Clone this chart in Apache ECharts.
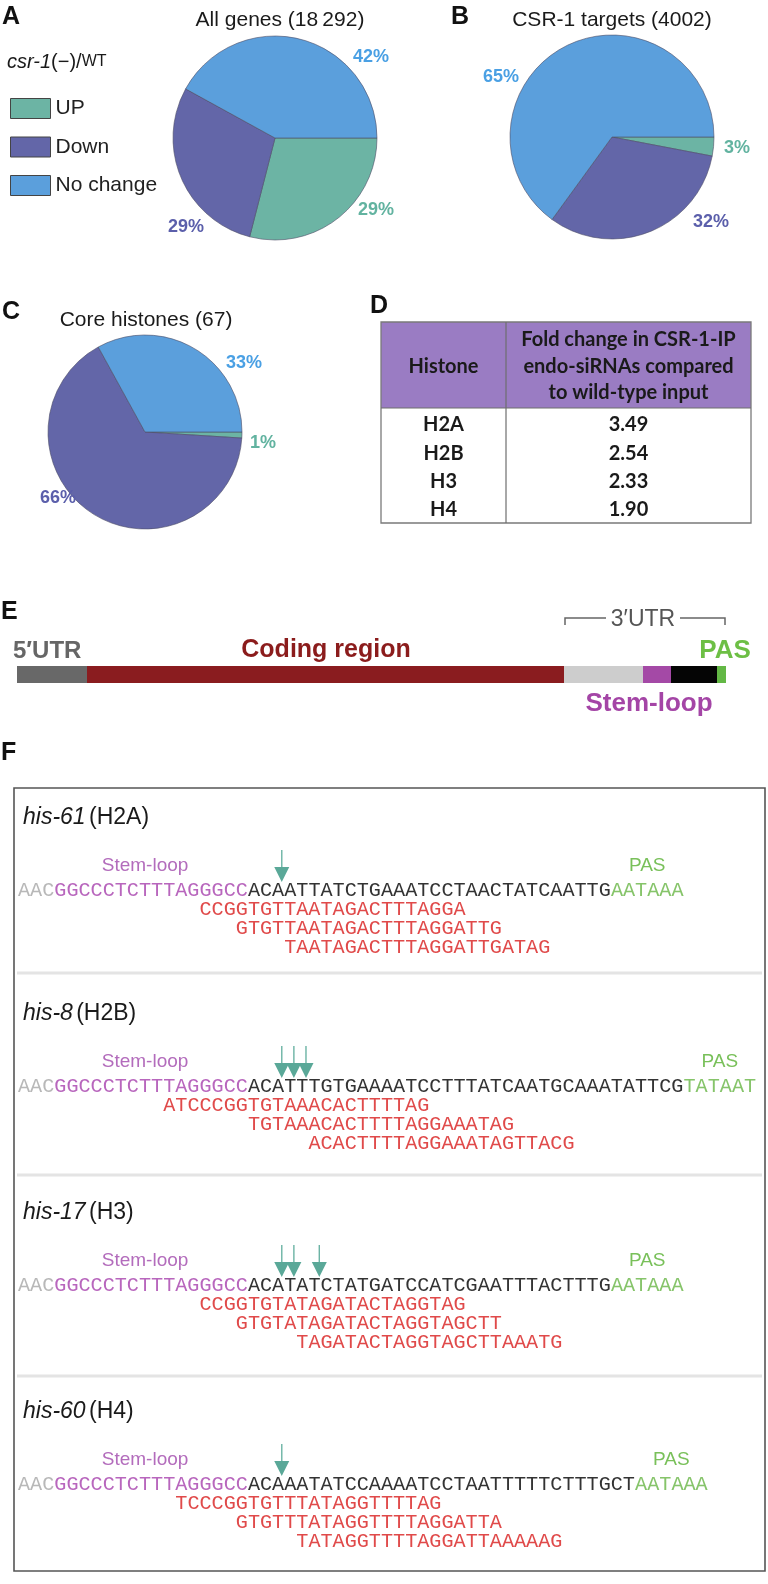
<!DOCTYPE html>
<html><head><meta charset="utf-8">
<script src="https://cdn.jsdelivr.net/npm/echarts@6/dist/echarts.min.js"></script>
<style>html,body{margin:0;padding:0;background:#fff}#c{width:768px;height:1584px}</style>
</head><body><div id="c"></div>
<script>
// ---------- DATA ----------
const categories = ['UP', 'Down', 'No change'];
const allGenes = [29, 29, 42];
const csr1Targets = [3, 32, 65];
const coreHistones = [1, 66, 33];
const pieTitles = ['All genes (18\u2009292)', 'CSR-1 targets (4002)', 'Core histones (67)'];

const histones = ['H2A', 'H2B', 'H3', 'H4'];
const foldChange = ['3.49', '2.54', '2.33', '1.90'];
const tableHeader = ['Histone', 'Fold change in CSR-1-IP', 'endo-siRNAs compared', 'to wild-type input'];

const geneParts = ['5\u2032UTR', 'Coding region', '3\u2032UTR', 'Stem-loop', '3\u2032 end', 'PAS'];
const genePartLengths = [70, 477, 79, 28, 46, 9];

const geneNames = ['his-61', 'his-8', 'his-17', 'his-60'];
const histoneTypes = ['H2A', 'H2B', 'H3', 'H4'];
const seqLead = ['AAC', 'AAC', 'AAC', 'AAC'];
const seqStem = ['GGCCCTCTTTAGGGCC', 'GGCCCTCTTTAGGGCC', 'GGCCCTCTTTAGGGCC', 'GGCCCTCTTTAGGGCC'];
const seqMid = ['ACAATTATCTGAAATCCTAACTATCAATTG',
                'ACATTTGTGAAAATCCTTTATCAATGCAAATATTCG',
                'ACATATCTATGATCCATCGAATTTACTTTG',
                'ACAAATATCCAAAATCCTAATTTTTCTTTGCT'];
const seqPas = ['AATAAA', 'TATAAT', 'AATAAA', 'AATAAA'];
const cleavageSites = [[21.8], [21.8, 22.8, 23.8], [21.8, 22.8, 24.9], [21.8]];
const siRNAs = [
  ['CCGGTGTTAATAGACTTTAGGA', 'GTGTTAATAGACTTTAGGATTG', 'TAATAGACTTTAGGATTGATAG'],
  ['ATCCCGGTGTAAACACTTTTAG', 'TGTAAACACTTTTAGGAAATAG', 'ACACTTTTAGGAAATAGTTACG'],
  ['CCGGTGTATAGATACTAGGTAG', 'GTGTATAGATACTAGGTAGCTT', 'TAGATACTAGGTAGCTTAAATG'],
  ['TCCCGGTGTTTATAGGTTTTAG', 'GTGTTTATAGGTTTTAGGATTA', 'TATAGGTTTTAGGATTAAAAAG']
];
const siRNAStarts = [[15, 18, 22], [12, 19, 24], [15, 18, 23], [13, 18, 23]];

// ---------- STYLE / LAYOUT ----------
const SANS = '"Liberation Sans", Arial, sans-serif';
const MONO = '"Liberation Mono", monospace';
const TBL = 'Lato, "Open Sans", sans-serif';
const sliceColors = ['#6cb4a4', '#6366a8', '#5b9fdc'];
const labelColors = ['#62b3a0', '#5b5fab', '#4aa0e4'];
const pieCenters = [[275, 138], [612, 137], [145, 432]];
const pieRadii = [102, 102, 97];
const pieTitlePos = [[280, 20], [612, 20], [146, 320]];
const pieLabelPos = [
  [[376, 210], [186, 227], [371, 57]],
  [[737, 148], [711, 222], [501, 77]],
  [[263, 443], [58, 498], [244, 363]]
];
const barColors = ['#686868', '#8a1c1f', '#cdcdcd', '#a449a6', '#050505', '#63b845'];

const chart = echarts.init(document.getElementById('c'), null, {renderer: 'canvas', width: 768, height: 1584});

function txt(x, y, text, font, fill, align, va, extra) {
  align = align || 'left'; va = va || 'middle';
  return {type: 'text', silent: true, z: 10,
    style: Object.assign({x: x, y: y, text: text, font: font, fill: fill,
      align: align, verticalAlign: va, textAlign: align, textVerticalAlign: va}, extra || {})};
}

const els = [];
// panel letters
els.push(txt(2, 17, 'A', 'bold 25px ' + SANS, '#111'));
els.push(txt(451, 17, 'B', 'bold 25px ' + SANS, '#111'));
els.push(txt(2, 312, 'C', 'bold 25px ' + SANS, '#111'));
els.push(txt(370, 306, 'D', 'bold 25px ' + SANS, '#111'));
els.push(txt(1, 612, 'E', 'bold 25px ' + SANS, '#111'));
els.push(txt(1, 753, 'F', 'bold 25px ' + SANS, '#111'));

// pie titles
pieTitles.forEach((t, i) => els.push(txt(pieTitlePos[i][0], pieTitlePos[i][1], t, '21px ' + SANS, '#1a1a1a', 'center')));

// legend title
els.push({type: 'text', silent: true, style: {x: 7, y: 62, text: '{i|csr-1}{n|(\u2212)/}{s|WT}',
  verticalAlign: 'middle', textVerticalAlign: 'middle',
  rich: {i: {font: 'italic 20px ' + SANS, fill: '#1a1a1a'}, n: {font: '20px ' + SANS, fill: '#1a1a1a'},
         s: {font: '16px ' + SANS, fill: '#1a1a1a'}}}});

// ---------- TABLE D ----------
const tX = 381, tY = 322, tW = 370, tH = 201, hdrH = 86, divX = 506;
els.push({type: 'rect', silent: true, shape: {x: tX, y: tY, width: tW, height: hdrH}, style: {fill: '#9a7cc3'}});
els.push({type: 'rect', silent: true, shape: {x: tX, y: tY, width: tW, height: tH}, style: {fill: 'none', stroke: '#7a7a7a', lineWidth: 1.3}});
els.push({type: 'line', silent: true, shape: {x1: divX, y1: tY, x2: divX, y2: tY + tH}, style: {stroke: '#6e6e6e', lineWidth: 1.2}});
els.push({type: 'line', silent: true, shape: {x1: tX, y1: tY + hdrH, x2: tX + tW, y2: tY + hdrH}, style: {stroke: '#6e6e6e', lineWidth: 1.2}});
const c1 = (tX + divX) / 2, c2 = (divX + tX + tW) / 2;
const TF = 'bold 20px ' + TBL;
els.push(txt(c1, tY + 45, tableHeader[0], TF, '#1a1a1a', 'center'));
for (let k = 1; k < 4; k++) els.push(txt(c2, tY + 18 + (k - 1) * 26.5, tableHeader[k], TF, '#1a1a1a', 'center'));
histones.forEach((h, i) => {
  const y = 425 + i * 28.3;
  els.push(txt(c1, y, h, TF, '#1a1a1a', 'center'));
  els.push(txt(c2, y, foldChange[i], TF, '#1a1a1a', 'center'));
});

// ---------- PANEL E texts ----------
els.push(txt(13, 651, geneParts[0], 'bold 24px ' + SANS, '#666', 'left'));
els.push(txt(326, 650, geneParts[1], 'bold 25px ' + SANS, '#8b1c1c', 'center'));
els.push(txt(643, 620, geneParts[2], '23px ' + SANS, '#555', 'center'));
els.push({type: 'polyline', silent: true, shape: {points: [[565, 625], [565, 618], [606, 618]]}, style: {stroke: '#666', lineWidth: 1.5, fill: null}});
els.push({type: 'polyline', silent: true, shape: {points: [[680, 618], [725, 618], [725, 625]]}, style: {stroke: '#666', lineWidth: 1.5, fill: null}});
els.push(txt(725, 651, geneParts[5], 'bold 26px ' + SANS, '#6dbf45', 'center'));
els.push(txt(649, 704, geneParts[3], 'bold 26px ' + SANS, '#a445a6', 'center'));

// ---------- PANEL F ----------
els.push({type: 'rect', silent: true, shape: {x: 14, y: 788, width: 751, height: 783}, style: {fill: 'none', stroke: '#555', lineWidth: 1.6}});
[973, 1175, 1376].forEach(y => els.push({type: 'line', silent: true, shape: {x1: 17, y1: y, x2: 762, y2: y}, style: {stroke: '#e4e4e4', lineWidth: 3}}));

const blockTitleY = [818, 1014, 1213, 1412];
const X0 = 18, PITCH = 12.1, MFONT = (PITCH / 0.6).toFixed(2) + 'px ' + MONO;
const cx = i => X0 + i * PITCH;
geneNames.forEach((g, b) => {
  const ty = blockTitleY[b];
  const sy = ty + 73;
  els.push({type: 'text', silent: true, style: {x: 23, y: ty, text: '{i|' + g + '} {n|(' + histoneTypes[b] + ')}',
    verticalAlign: 'middle', textVerticalAlign: 'middle',
    rich: {i: {font: 'italic 23px ' + SANS, fill: '#1a1a1a'}, n: {font: '23px ' + SANS, fill: '#1a1a1a'}}}});
  const parts = [[seqLead[b], '#b8b8b8'], [seqStem[b], '#b866bd'], [seqMid[b], '#333333'], [seqPas[b], '#86c46a']];
  let idx = 0;
  const starts = [];
  parts.forEach(p => {
    starts.push(idx);
    els.push(txt(cx(idx), sy, p[0], MFONT, p[1], 'left'));
    idx += p[0].length;
  });
  // labels
  els.push(txt(cx(starts[1] + seqStem[b].length / 2 - 0.5), ty + 48, 'Stem-loop', '19px ' + SANS, '#b36cbc', 'center'));
  els.push(txt(cx(starts[3] + seqPas[b].length / 2), ty + 48, 'PAS', '19px ' + SANS, '#79c05a', 'center'));
  // arrows
  const tip = sy - 9;
  cleavageSites[b].forEach(a => {
    const ax = cx(a);
    els.push({type: 'line', silent: true, shape: {x1: ax, y1: tip - 32, x2: ax, y2: tip - 12}, style: {stroke: '#6bb3a4', lineWidth: 1.4}});
    els.push({type: 'polygon', silent: true, shape: {points: [[ax - 7.5, tip - 15], [ax + 7.5, tip - 15], [ax, tip]]}, style: {fill: '#5aa898'}});
  });
  // siRNAs
  siRNAs[b].forEach((s, r) => {
    els.push(txt(cx(siRNAStarts[b][r]), sy + 19 * (r + 1), s, MFONT, '#e04a4a', 'left'));
  });
});

// ---------- SERIES ----------
const pieData = [allGenes, csr1Targets, coreHistones];
const series = pieData.map((vals, s) => ({
  type: 'pie', center: pieCenters[s], radius: pieRadii[s], startAngle: 0, clockwise: true,
  avoidLabelOverlap: false, silent: true, animation: false,
  data: vals.map((v, i) => ({name: categories[i], value: v, itemStyle: {color: sliceColors[i]}, label: {color: labelColors[i]}})),
  itemStyle: {borderColor: '#4d4d66', borderWidth: 0.6},
  label: {show: true, position: 'outside', formatter: '{c}%', fontSize: 18, fontWeight: 'bold', fontFamily: SANS},
  labelLine: {show: false},
  labelLayout: p => ({x: pieLabelPos[s][p.dataIndex][0], y: pieLabelPos[s][p.dataIndex][1], align: 'center', verticalAlign: 'middle'}),
  emphasis: {disabled: true}
}));
geneParts.forEach((name, i) => series.push({
  type: 'bar', name: name, stack: 'gene', data: [genePartLengths[i]], barWidth: 17, silent: true, animation: false,
  itemStyle: {color: barColors[i]}, emphasis: {disabled: true}
}));

chart.setOption({
  animation: false,
  backgroundColor: '#fff',
  legend: {data: categories, orient: 'vertical', left: 5, top: 93, itemWidth: 40, itemHeight: 20, itemGap: 17.5,
    icon: 'rect', selectedMode: false, textStyle: {fontSize: 21, color: '#222', fontFamily: SANS},
    itemStyle: {borderColor: '#444', borderWidth: 1}},
  grid: {left: 17, top: 666, width: 709, height: 17},
  xAxis: {type: 'value', min: 0, max: genePartLengths.reduce((a, b) => a + b, 0), show: false},
  yAxis: {type: 'category', data: ['gene'], show: false},
  tooltip: {show: false},
  series: series,
  graphic: {elements: els}
});
</script></body></html>
